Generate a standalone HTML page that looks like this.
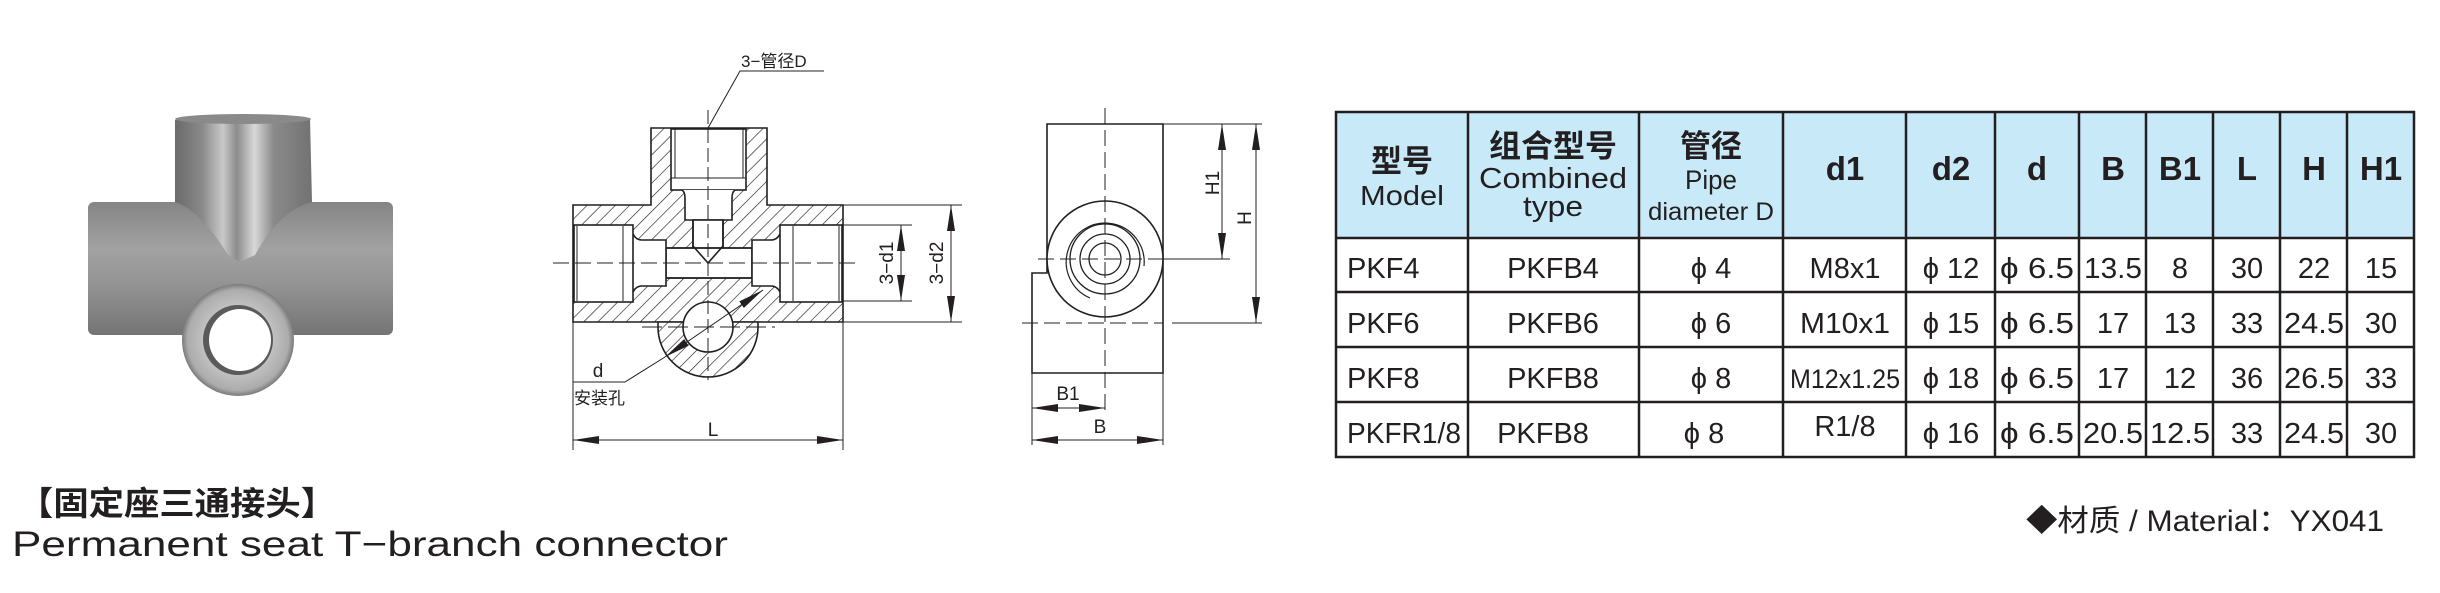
<!DOCTYPE html>
<html><head><meta charset="utf-8">
<style>
html,body{margin:0;padding:0;background:#fff;}
svg{display:block;}
text{font-family:"Liberation Sans","Noto Sans CJK SC",sans-serif;fill:#231f20;}
</style></head>
<body>
<svg width="2440" height="593" viewBox="0 0 2440 593" xmlns="http://www.w3.org/2000/svg">
<defs>
  <pattern id="hatch" patternUnits="userSpaceOnUse" width="10" height="10" patternTransform="rotate(45)">
    <rect width="10" height="10" fill="#fff"/>
    <line x1="0" y1="0" x2="0" y2="10" stroke="#231f20" stroke-width="1.3"/>
  </pattern>
  <marker id="ar" markerUnits="userSpaceOnUse" markerWidth="26" markerHeight="10" refX="26" refY="5" orient="auto-start-reverse">
    <path d="M0,1 L26,5 L0,9 Z" fill="#231f20"/>
  </marker>
  <linearGradient id="bodyG" x1="0" y1="0" x2="0" y2="1">
    <stop offset="0" stop-color="#858585"/>
    <stop offset="0.35" stop-color="#a2a2a2"/>
    <stop offset="0.6" stop-color="#959595"/>
    <stop offset="1" stop-color="#747474"/>
  </linearGradient>
  <linearGradient id="pipeG" x1="0" y1="0" x2="1" y2="0">
    <stop offset="0" stop-color="#6a6a6a"/>
    <stop offset="0.2" stop-color="#8a8a8a"/>
    <stop offset="0.35" stop-color="#c9c9c9"/>
    <stop offset="0.45" stop-color="#8c8c8c"/>
    <stop offset="0.58" stop-color="#d8d8d8"/>
    <stop offset="0.72" stop-color="#8a8a8a"/>
    <stop offset="1" stop-color="#727272"/>
  </linearGradient>
  <radialGradient id="lugG" cx="0.5" cy="0.5" r="0.5">
    <stop offset="0.6" stop-color="#c2c2c2"/>
    <stop offset="0.9" stop-color="#acacac"/>
    <stop offset="1" stop-color="#7a7a7a"/>
  </radialGradient>
</defs>

<!-- ===== Photo ===== -->
<rect x="88" y="202" width="305" height="133" rx="6" fill="url(#bodyG)"/>
<path d="M175,120 L310,118 L312,202 Q280,210 255,255 L240,262 L228,255 Q200,210 175,202 Z" fill="url(#pipeG)"/>
<ellipse cx="243" cy="119" rx="68" ry="5" fill="#8a8a8a"/>
<circle cx="238" cy="340" r="56" fill="url(#lugG)"/>
<circle cx="238" cy="340" r="35" fill="#5a5a5a"/>
<circle cx="240" cy="340" r="31" fill="#fff"/>

<!-- ===== Front section view ===== -->
<g stroke="#231f20" stroke-width="1.6" fill="none">
  <path d="M573,205 L651,205 L651,128 L767,128 L767,205 L843,205 L843,322 L573,322 Z" fill="url(#hatch)"/>
  <path d="M658,322 L658,327 A50,50 0 0 0 758,327 L758,322 Z" fill="url(#hatch)"/>
  <rect x="671" y="129" width="75" height="61" fill="#fff"/>
  <line x1="675" y1="129" x2="675" y2="178" stroke-width="1"/>
  <line x1="743" y1="129" x2="743" y2="178" stroke-width="1"/>
  <line x1="671" y1="178" x2="746" y2="178" stroke-width="1"/>
  <path d="M682,190 Q685,192 685,198 L685,220 L732,220 L732,198 Q732,192 735,190" fill="#fff"/>
  <rect x="693" y="220" width="30" height="30" fill="#fff"/>
  <rect x="666" y="248" width="86" height="30" fill="#fff"/>
  <path d="M693,220 L693,248 M723,220 L723,248"/>
  <path d="M633,234 Q636,240 642,240 L666,240 L666,286 L642,286 Q636,286 633,292" fill="#fff"/>
  <rect x="574" y="225" width="59" height="77" fill="#fff"/>
  <line x1="623" y1="226" x2="623" y2="301" stroke-width="1"/>
  <line x1="577" y1="226" x2="577" y2="301" stroke-width="1"/>
  <path d="M780,234 Q777,240 771,240 L752,240 L752,286 L771,286 Q777,286 780,292" fill="#fff"/>
  <rect x="780" y="225" width="62" height="77" fill="#fff"/>
  <line x1="793" y1="226" x2="793" y2="301" stroke-width="1"/>
  <line x1="839" y1="226" x2="839" y2="301" stroke-width="1"/>
  <line x1="666" y1="248" x2="752" y2="248"/>
  <line x1="666" y1="278" x2="752" y2="278"/>
  <path d="M693,246 L708,263 L723,246"/>
  <circle cx="708" cy="327" r="25" fill="#fff"/>
</g>
<g stroke="#231f20" stroke-width="1" fill="none">
  <line x1="708" y1="110" x2="708" y2="380" stroke-dasharray="14,5"/>
  <line x1="553" y1="263" x2="860" y2="263" stroke-dasharray="16,6"/>
  <line x1="642" y1="327" x2="775" y2="327" stroke-dasharray="20,6"/>
  <polyline points="824,71 740,71 708,128"/>
  <line x1="843" y1="225" x2="912" y2="225"/>
  <line x1="843" y1="301" x2="912" y2="301"/>
  <line x1="843" y1="205" x2="962" y2="205"/>
  <line x1="843" y1="322" x2="962" y2="322"/>
  <line x1="901" y1="225" x2="901" y2="301" marker-start="url(#ar)" marker-end="url(#ar)"/>
  <line x1="951" y1="205" x2="951" y2="322" marker-start="url(#ar)" marker-end="url(#ar)"/>
  <line x1="573" y1="322" x2="573" y2="450"/>
  <line x1="843" y1="322" x2="843" y2="450"/>
  <line x1="573" y1="440" x2="843" y2="440" marker-start="url(#ar)" marker-end="url(#ar)"/>
  <line x1="763" y1="290" x2="665" y2="357" marker-start="url(#ar)" marker-end="url(#ar)"/>
  <polyline points="665,357 625,382 573,382"/>
</g>
<text x="741" y="67" font-size="17">3−管径D</text>
<text transform="translate(893,263) rotate(-90)" font-size="19" text-anchor="middle">3−d1</text>
<text transform="translate(943,263) rotate(-90)" font-size="19" text-anchor="middle">3−d2</text>
<text x="713" y="436" font-size="19" text-anchor="middle">L</text>
<text x="598" y="377" font-size="19" text-anchor="middle">d</text>
<text x="574" y="404" font-size="17">安装孔</text>

<!-- ===== Side view ===== -->
<g stroke="#231f20" stroke-width="1.6" fill="none">
  <path d="M1047,124 L1163,124 L1163,373 L1032,373 L1032,273 L1047,273 Z"/>
  <circle cx="1105" cy="259" r="58" fill="#fff"/>
  <path d="M1090,298 A39,39 0 1 1 1144,266" stroke-width="1.2"/>
  <circle cx="1105" cy="259" r="35" stroke-width="1.3"/>
  <circle cx="1105" cy="259" r="25" stroke-width="1.3"/>
  <circle cx="1105" cy="259" r="16" stroke-width="1.3"/>
</g>
<g stroke="#231f20" stroke-width="1" fill="none">
  <line x1="1105" y1="108" x2="1105" y2="415" stroke-dasharray="16,6"/>
  <line x1="1038" y1="259" x2="1163" y2="259" stroke-dasharray="16,6"/>
  <line x1="1163" y1="259" x2="1230" y2="259"/>
  <line x1="1022" y1="323" x2="1163" y2="323" stroke-dasharray="16,6"/>
  <line x1="1172" y1="323" x2="1262" y2="323"/>
  <line x1="1163" y1="124" x2="1262" y2="124"/>
  <line x1="1222" y1="124" x2="1222" y2="259" marker-start="url(#ar)" marker-end="url(#ar)"/>
  <line x1="1256" y1="124" x2="1256" y2="323" marker-start="url(#ar)" marker-end="url(#ar)"/>
  <line x1="1032" y1="373" x2="1032" y2="445"/>
  <line x1="1163" y1="373" x2="1163" y2="445"/>
  <line x1="1032" y1="408" x2="1105" y2="408" marker-start="url(#ar)" marker-end="url(#ar)"/>
  <line x1="1032" y1="440" x2="1163" y2="440" marker-start="url(#ar)" marker-end="url(#ar)"/>
</g>
<text transform="translate(1219,183) rotate(-90)" font-size="19" text-anchor="middle">H1</text>
<text transform="translate(1251,218) rotate(-90)" font-size="19" text-anchor="middle">H</text>
<text x="1068" y="400" font-size="19" text-anchor="middle">B1</text>
<text x="1100" y="433" font-size="19" text-anchor="middle">B</text>

<!-- ===== Table ===== -->
<rect x="1336" y="112" width="1078" height="126" fill="#c8e9f8"/>
<g stroke="#231f20" stroke-width="2.5" fill="none">
  <rect x="1336" y="112" width="1078" height="345"/>
  <line x1="1336" y1="238" x2="2414" y2="238"/>
  <line x1="1336" y1="292" x2="2414" y2="292"/>
  <line x1="1336" y1="347" x2="2414" y2="347"/>
  <line x1="1336" y1="402" x2="2414" y2="402"/>
  <line x1="1468" y1="112" x2="1468" y2="457"/>
  <line x1="1639" y1="112" x2="1639" y2="457"/>
  <line x1="1783" y1="112" x2="1783" y2="457"/>
  <line x1="1906" y1="112" x2="1906" y2="457"/>
  <line x1="1995" y1="112" x2="1995" y2="457"/>
  <line x1="2079" y1="112" x2="2079" y2="457"/>
  <line x1="2146" y1="112" x2="2146" y2="457"/>
  <line x1="2213" y1="112" x2="2213" y2="457"/>
  <line x1="2280" y1="112" x2="2280" y2="457"/>
  <line x1="2347" y1="112" x2="2347" y2="457"/>
</g>
<g font-weight="bold" text-anchor="middle">
  <text x="1402" y="172" font-size="31">型号</text>
  <text x="1402" y="205" font-size="28" font-weight="normal" textLength="84" lengthAdjust="spacingAndGlyphs">Model</text>
  <text x="1553" y="157" font-size="31" textLength="128" lengthAdjust="spacingAndGlyphs">组合型号</text>
  <text x="1553" y="188" font-size="29" font-weight="normal" textLength="148" lengthAdjust="spacingAndGlyphs">Combined</text>
  <text x="1553" y="216" font-size="29" font-weight="normal" textLength="60" lengthAdjust="spacingAndGlyphs">type</text>
  <text x="1711" y="157" font-size="31">管径</text>
  <text x="1711" y="189" font-size="27" font-weight="normal" textLength="52" lengthAdjust="spacingAndGlyphs">Pipe</text>
  <text x="1711" y="220" font-size="25" font-weight="normal" textLength="126" lengthAdjust="spacingAndGlyphs">diameter D</text>
  <g font-size="33">
  <text x="1845" y="180">d1</text>
  <text x="1951" y="180">d2</text>
  <text x="2037" y="180">d</text>
  <text x="2113" y="180">B</text>
  <text x="2180" y="180">B1</text>
  <text x="2247" y="180">L</text>
  <text x="2314" y="180">H</text>
  <text x="2381" y="180">H1</text>
  </g>
</g>
<g font-size="29" text-anchor="middle">
  <text x="1347" y="278" text-anchor="start">PKF4</text>
  <text x="1553" y="278">PKFB4</text>
  <text x="1711" y="278">ϕ 4</text>
  <text x="1845" y="278">M8x1</text>
  <text x="1951" y="278">ϕ 12</text>
  <text x="2037" y="278" textLength="74" lengthAdjust="spacingAndGlyphs">ϕ 6.5</text>
  <text x="2113" y="278" textLength="58" lengthAdjust="spacingAndGlyphs">13.5</text>
  <text x="2180" y="278">8</text>
  <text x="2247" y="278">30</text>
  <text x="2314" y="278">22</text>
  <text x="2381" y="278">15</text>

  <text x="1347" y="333" text-anchor="start">PKF6</text>
  <text x="1553" y="333">PKFB6</text>
  <text x="1711" y="333">ϕ 6</text>
  <text x="1845" y="333" textLength="90" lengthAdjust="spacingAndGlyphs">M10x1</text>
  <text x="1951" y="333">ϕ 15</text>
  <text x="2037" y="333" textLength="74" lengthAdjust="spacingAndGlyphs">ϕ 6.5</text>
  <text x="2113" y="333">17</text>
  <text x="2180" y="333">13</text>
  <text x="2247" y="333">33</text>
  <text x="2314" y="333" textLength="60" lengthAdjust="spacingAndGlyphs">24.5</text>
  <text x="2381" y="333">30</text>

  <text x="1347" y="388" text-anchor="start">PKF8</text>
  <text x="1553" y="388">PKFB8</text>
  <text x="1711" y="388">ϕ 8</text>
  <text x="1845" y="388" font-size="27" textLength="110" lengthAdjust="spacingAndGlyphs">M12x1.25</text>
  <text x="1951" y="388">ϕ 18</text>
  <text x="2037" y="388" textLength="74" lengthAdjust="spacingAndGlyphs">ϕ 6.5</text>
  <text x="2113" y="388">17</text>
  <text x="2180" y="388">12</text>
  <text x="2247" y="388">36</text>
  <text x="2314" y="388" textLength="60" lengthAdjust="spacingAndGlyphs">26.5</text>
  <text x="2381" y="388">33</text>

  <text x="1347" y="443" text-anchor="start" textLength="114" lengthAdjust="spacingAndGlyphs">PKFR1/8</text>
  <text x="1543" y="443">PKFB8</text>
  <text x="1704" y="443">ϕ 8</text>
  <text x="1845" y="436">R1/8</text>
  <text x="1951" y="443">ϕ 16</text>
  <text x="2037" y="443" textLength="74" lengthAdjust="spacingAndGlyphs">ϕ 6.5</text>
  <text x="2113" y="443" textLength="60" lengthAdjust="spacingAndGlyphs">20.5</text>
  <text x="2180" y="443" textLength="60" lengthAdjust="spacingAndGlyphs">12.5</text>
  <text x="2247" y="443">33</text>
  <text x="2314" y="443" textLength="60" lengthAdjust="spacingAndGlyphs">24.5</text>
  <text x="2381" y="443">30</text>
</g>

<!-- ===== Captions ===== -->
<text x="18" y="515" font-size="33" font-weight="bold" textLength="318" lengthAdjust="spacingAndGlyphs">【固定座三通接头】</text>
<text x="12" y="556" font-size="35" textLength="716" lengthAdjust="spacingAndGlyphs">Permanent seat T−branch connector</text>
<text x="2026" y="531" font-size="30" textLength="358" lengthAdjust="spacingAndGlyphs">◆材质 / Material：YX041</text>
</svg>
</body></html>
